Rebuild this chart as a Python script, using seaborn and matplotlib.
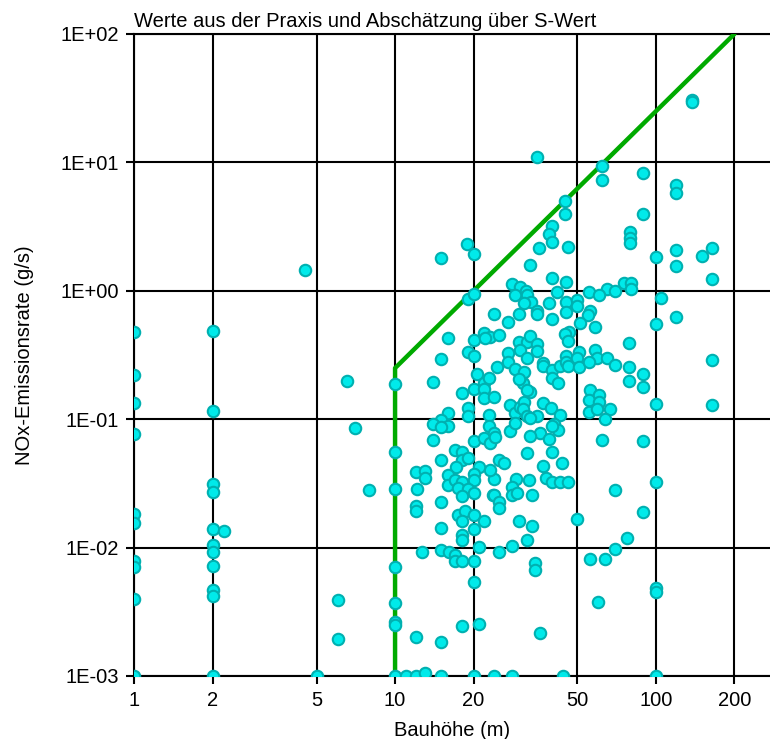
import numpy as np
import pandas as pd
import seaborn as sns
import matplotlib.pyplot as plt
from matplotlib.ticker import FixedLocator, FuncFormatter, NullLocator

# building height (m) and NOx emission rate (g/s)
hoehe = [
    1, 1, 1, 1, 1, 1, 1, 1, 1, 1,
    2, 2, 2, 2, 2, 2, 2, 2, 2, 2, 2, 2.21,
    4.52, 5, 6.03, 6.03, 6.53, 7.04, 7.97,
    10, 10, 10, 10, 10, 10, 10, 10,
    35.0, 62.1, 62.1, 89.6, 119.6, 119.6, 137.5, 137.5, 44.9, 44.9,
    89.6, 40.0, 38.9, 40.0, 79.7, 79.7, 79.7, 18.9, 35.6, 45.9,
    119.6, 164.9, 20.0, 15.0, 32.9, 99.7, 119.6, 150, 164.9, 39.9,
    45.2, 28.0, 30.2, 75.2, 80, 80, 64.9, 70.0, 55.6, 60.3,
    31.7, 41.8,
    19.1, 20.0, 32.1, 28.9, 33.2, 31.3, 45.2, 49.8, 49.8, 39.1,
    104.8, 99.7, 119.6, 24.0, 27.0, 30.0, 34.9, 34.9, 40.0, 45.2,
    56.0, 54.9, 51.3, 58.2,
    164.9, 164.9, 99.7, 16.0, 15.0, 14.0, 20.0, 22.0, 23.2, 22.2,
    25.1, 19.0, 20.0, 27.0, 27.0, 30.0, 32.1, 30.2, 32.8, 34.9,
    34.9, 32.1, 37.0, 37.0, 40.1, 40.1, 42.0, 42.9, 45.2, 45.2,
    46.0, 46.6, 44.8, 46.0, 50.9, 49.8, 50.9, 58.2, 59.3, 55.2,
    64.9, 70.0, 78.8, 79.0, 79.0, 89.6, 89.6, 16.0, 18.0, 19.0,
    19.0, 20.0, 20.7, 22.0, 22.0, 22.0, 23.0, 24.0, 24.5, 23.0,
    27.6, 28.9, 30.2, 31.3, 31.0, 32.1, 34.9, 32.8, 31.0, 32.8,
    30.2, 28.9, 31.3, 30.0, 32.1, 37.0, 39.6, 42.9, 56.0, 55.2,
    60.3, 60.3, 55.2, 59.7, 66.7, 63.9,
    15.0, 16.0, 14.0, 15.0, 14.0, 15.0, 20.0, 22.0, 23.0, 23.2,
    24.0, 24.1, 27.6, 28.9, 40.8, 42.0, 39.9, 36.0, 39.1, 32.8,
    62.1, 89.6, 69.8, 99.7, 32.1, 40.1, 43.5, 37.0, 37.9, 39.9,
    42.9, 46.0, 32.6, 29.1, 28.0, 28.0, 33.4, 24.0, 23.8, 25.1,
    26.1, 23.2, 21.0, 20.0, 20.0, 17.0, 18.0, 18.0, 19.1, 17.2,
    16.0, 16.0, 17.0, 18.0, 17.4, 19.1, 12.0, 13.0, 13.0, 12.1,
    15.0, 12.0, 12.0, 18.0, 20.0, 17.5, 18.6, 18.0, 20.0, 15.0,
    20.0, 18.0, 18.0, 22.0, 24.0, 25.1, 25.1, 29.4, 30.0, 32.1,
    33.5, 28.0, 21.0, 89.6, 50.0, 77.8, 70.0,
    25.1, 20.0, 20.0, 12.7, 15.0, 16.1, 17.0, 17.0, 18.1, 34.5,
    34.5, 56.0, 64.0, 99.7, 99.7, 59.9, 36.0, 18.0, 21.0, 12.0,
    15.0, 11.0, 12.0, 13.0, 15.0, 20.0, 24.0, 28.0, 44.0, 100,
]
nox = [
    0.477, 0.22, 0.134, 0.077, 0.0183, 0.0155, 0.0079, 0.0070, 0.0040, 0.001,
    0.488, 0.115, 0.031, 0.027, 0.0139, 0.0105, 0.0093, 0.0072, 0.0047, 0.0042, 0.001, 0.0134,
    1.44, 0.001, 0.0039, 0.00194, 0.197, 0.0848, 0.0279,
    0.189, 0.0554, 0.0288, 0.0070, 0.0037, 0.00265, 0.0025, 0.001,
    11.1, 9.29, 7.28, 8.26, 6.69, 5.77, 30.7, 29.3, 5.02, 3.96,
    3.98, 3.17, 2.75, 2.39, 2.87, 2.57, 2.35, 2.32, 2.15, 2.19,
    2.06, 2.15, 1.92, 1.80, 1.59, 1.83, 1.55, 1.85, 1.23, 1.26,
    1.17, 1.12, 1.07, 1.16, 1.16, 1.03, 1.03, 1.0, 0.97, 0.926,
    0.99, 0.977,
    0.862, 0.94, 0.93, 0.93, 0.825, 0.80, 0.825, 0.85, 0.755, 0.80,
    0.877, 0.553, 0.624, 0.658, 0.574, 0.662, 0.70, 0.658, 0.602, 0.682,
    0.70, 0.65, 0.56, 0.518,
    0.29, 0.129, 0.132, 0.428, 0.294, 0.195, 0.415, 0.469, 0.436, 0.428,
    0.449, 0.331, 0.312, 0.327, 0.281, 0.396, 0.396, 0.347, 0.446, 0.385,
    0.341, 0.299, 0.274, 0.26, 0.243, 0.209, 0.191, 0.26, 0.308, 0.278,
    0.26, 0.48, 0.46, 0.403, 0.331, 0.299, 0.257, 0.347, 0.299, 0.277,
    0.302, 0.262, 0.391, 0.253, 0.199, 0.225, 0.177, 0.112, 0.16, 0.122,
    0.105, 0.172, 0.226, 0.193, 0.172, 0.146, 0.209, 0.149, 0.257, 0.108,
    0.129, 0.112, 0.125, 0.137, 0.12, 0.105, 0.106, 0.103, 0.191, 0.164,
    0.213, 0.247, 0.235, 0.205, 0.169, 0.133, 0.122, 0.107, 0.169, 0.14,
    0.153, 0.136, 0.114, 0.12, 0.12, 0.10,
    0.099, 0.089, 0.092, 0.0868, 0.069, 0.0483, 0.068, 0.071, 0.0878, 0.0652,
    0.078, 0.0725, 0.0802, 0.0933, 0.092, 0.083, 0.088, 0.078, 0.0704, 0.0733,
    0.069, 0.068, 0.0282, 0.0327, 0.0545, 0.0554, 0.0455, 0.043, 0.0348, 0.0327,
    0.0323, 0.0323, 0.0334, 0.0342, 0.0296, 0.0258, 0.0258, 0.0342, 0.0258, 0.0483,
    0.0455, 0.0404, 0.0423, 0.0375, 0.0337, 0.0578, 0.056, 0.0477, 0.0498, 0.0423,
    0.0369, 0.0309, 0.0337, 0.0327, 0.0292, 0.0286, 0.039, 0.0397, 0.0348, 0.0287,
    0.0225, 0.0212, 0.0194, 0.0253, 0.0265, 0.018, 0.0193, 0.016, 0.018, 0.0142,
    0.0139, 0.0125, 0.0114, 0.016, 0.0255, 0.0225, 0.0203, 0.0265, 0.0162, 0.0115,
    0.0146, 0.0103, 0.0101, 0.0189, 0.0168, 0.0119, 0.0097,
    0.00916, 0.0078, 0.00535, 0.0093, 0.0095, 0.0093, 0.0088, 0.0079, 0.0079, 0.0076,
    0.0067, 0.0081, 0.0081, 0.00484, 0.00447, 0.0038, 0.00218, 0.00246, 0.00255, 0.002,
    0.00183, 0.001, 0.001, 0.00106, 0.001, 0.001, 0.001, 0.001, 0.001, 0.001,
]

# S-value estimate: vertical at 10 m, then slope 2 up to 200 m
grenze_x = [10, 10, 200]
grenze_y = [0.001, 0.25, 100]

x_ticks = [1, 2, 5, 10, 20, 50, 100, 200]
y_ticks = [1e-3, 1e-2, 1e-1, 1e0, 1e1, 1e2]

df = pd.DataFrame({"Bauhoehe": hoehe, "NOx": nox})

sns.set_style("white")
plt.rcParams['font.family'] = ['Liberation Sans', 'DejaVu Sans']
plt.rcParams['text.color'] = 'black'
plt.rcParams['axes.labelcolor'] = 'black'
plt.rcParams['xtick.color'] = 'black'
plt.rcParams['ytick.color'] = 'black'

fig = plt.figure(figsize=(7.7, 7.39), dpi=100)
ax = fig.add_axes([0.1744, 0.0853, 0.8256, 0.8687])
ax.set_xscale('log')
ax.set_yscale('log')

ax.plot(grenze_x, grenze_y, color='#00aa00', lw=3.2, zorder=3, solid_joinstyle='round')
sns.scatterplot(data=df, x="Bauhoehe", y="NOx", ax=ax, s=68, color='#00eaea',
                edgecolor='#00b0b0', linewidth=1.5, zorder=4, legend=False)

ax.set_xlim(1, 274)
ax.set_ylim(1e-3, 1e2)
ax.xaxis.set_major_locator(FixedLocator(x_ticks))
ax.xaxis.set_major_formatter(FuncFormatter(lambda v, p: f"{v:g}"))
ax.xaxis.set_minor_locator(NullLocator())
ax.yaxis.set_major_locator(FixedLocator(y_ticks))
ax.yaxis.set_major_formatter(FuncFormatter(lambda v, p: format(v, '.0E')))
ax.yaxis.set_minor_locator(NullLocator())

ax.grid(True, which='major', color='black', lw=1.5)
ax.set_axisbelow(True)
for side in ['left', 'bottom', 'top']:
    ax.spines[side].set_color('black')
    ax.spines[side].set_linewidth(1.5)
ax.spines['right'].set_visible(False)

ax.tick_params(axis='both', direction='out', length=6, width=1.5, color='black',
               labelcolor='black', labelsize=14.5, pad=5,
               bottom=True, left=True, top=False, right=False)

ax.set_title('Werte aus der Praxis und Abschätzung über S-Wert', loc='left',
             fontsize=14.5, pad=5, color='black')
ax.set_xlabel('Bauhöhe (m)', fontsize=14.5, labelpad=8, color='black')
ax.set_ylabel('NOx-Emissionsrate (g/s)', fontsize=14.5, labelpad=19, color='black')

plt.savefig('out.png', dpi=100)
plt.close()
